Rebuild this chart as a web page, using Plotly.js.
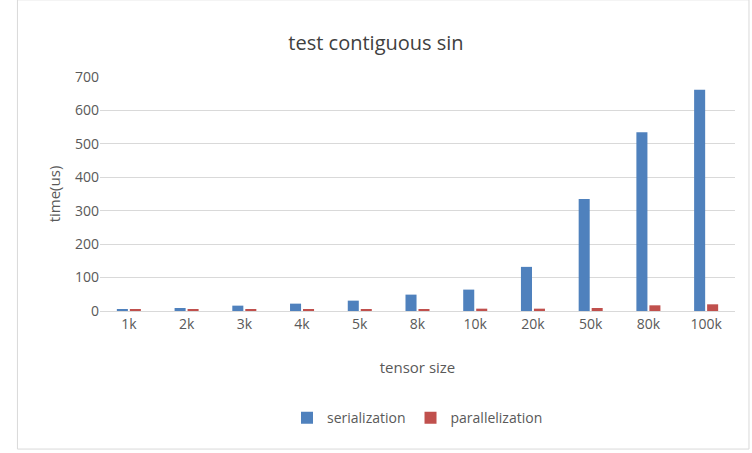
<!DOCTYPE html>
<html>
<head>
<meta charset="utf-8">
<script src="https://cdn.plot.ly/plotly-3.0.1.min.js"></script>
<style>body{margin:0}#chart{width:752px;height:453px;}</style>
</head>
<body>
<div id="chart"></div>
<script>
var sizes = ['1k', '2k', '3k', '4k', '5k', '8k', '10k', '20k', '50k', '80k', '100k'];
var serialization = [6, 9, 16, 22, 31, 49, 64, 132, 335, 535, 662];
var parallelization = [4, 4, 4, 4, 4, 4, 7, 7, 9, 17, 20];

var data = [{
  x: sizes, y: serialization, name: 'serialization', type: 'bar',
  marker: {color: '#4f81bd'}
}, {
  x: sizes, y: parallelization, name: 'parallelization', type: 'bar',
  marker: {color: '#c0504d'}
}];

var layout = {
  width: 752, height: 453,
  font: {family: 'Open Sans, Calibri, sans-serif', color: '#595959', size: 14},
  title: {text: 'test contiguous sin', font: {size: 20, color: '#404040'}, y: 0.92},
  margin: {l: 100, r: 17, t: 77, b: 142},
  barmode: 'group', bargap: 0.55, bargroupgap: 0.15,
  xaxis: {title: {text: 'tensor size', font: {size: 15}, standoff: 30}, showline: true, linecolor: '#d9d9d9', ticks: ''},
  yaxis: {title: {text: 'time(us)', font: {size: 15}}, range: [0, 700], dtick: 100,
          gridcolor: '#d9d9d9', zeroline: false},
  legend: {orientation: 'h', x: 0.5, xanchor: 'center', y: -0.39, font: {size: 14}},
  shapes: [{type: 'rect', xref: 'paper', yref: 'paper', x0: -0.13, x1: 1.022, y0: -0.59, y1: 1.33,
            line: {color: '#d9d9d9', width: 1}}],
  paper_bgcolor: '#fff', plot_bgcolor: '#fff'
};
Plotly.newPlot('chart', data, layout, {displayModeBar: false});
</script>
</body>
</html>
